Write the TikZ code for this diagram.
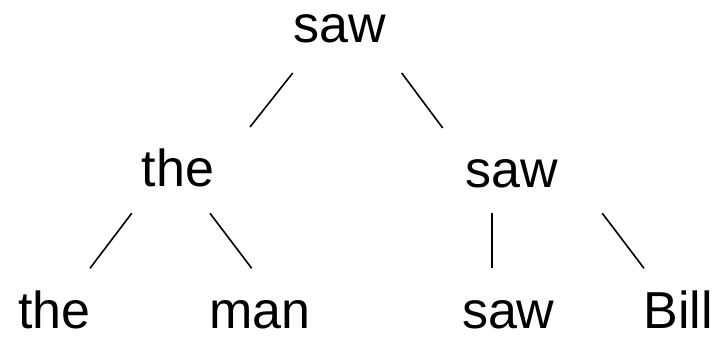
\documentclass[tikz,border=0pt]{standalone}
\usepackage{fontspec}
\setmainfont{Liberation Sans}
\begin{document}
\begin{tikzpicture}[x=1pt,y=-1pt,
  word/.style={anchor=base,inner sep=0pt,font=\fontsize{52}{60}\selectfont},
  edge/.style={line width=1.6pt}]
\useasboundingbox (0,0) rectangle (719,337);
\node[word] (r) at (339.5,43) {saw};
\node[word] (l) at (178,186.7) {the};
\node[word] (m) at (511.7,187.5) {saw};
\node[word] (a) at (54.2,328.3) {the};
\node[word] (b) at (260,328.3) {man};
\node[word] (c) at (508.3,328.3) {saw};
\node[word] (d) at (678.3,328.3) {Bill};
\coordinate (r1) at (292.7,73);  \coordinate (l0) at (250,127);
\coordinate (r2) at (401.7,73);  \coordinate (m0) at (442.7,128);
\coordinate (l1) at (131.7,213.3); \coordinate (a0) at (90,268.3);
\coordinate (l2) at (210,213.3); \coordinate (b0) at (251.7,268.3);
\coordinate (m1) at (491.7,213.3); \coordinate (c0) at (491.7,268.3);
\coordinate (m2) at (602.3,213.3); \coordinate (d0) at (644,268.3);
\draw[edge] (r1) -- (l0);
\draw[edge] (r2) -- (m0);
\draw[edge] (l1) -- (a0);
\draw[edge] (l2) -- (b0);
\draw[edge] (m1) -- (c0);
\draw[edge] (m2) -- (d0);
\end{tikzpicture}
\end{document}
